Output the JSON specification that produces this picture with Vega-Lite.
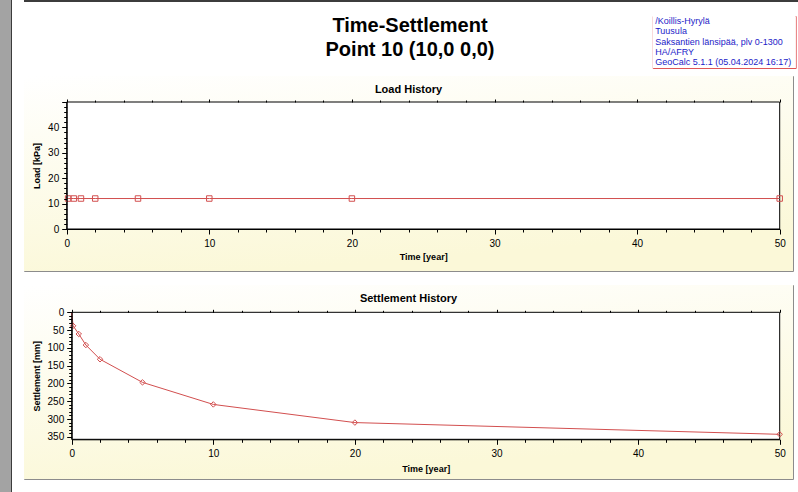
{
  "$schema": "https://vega.github.io/schema/vega-lite/v6.json",
  "background": "white",
  "padding": 0,
  "config": {
    "font": "Liberation Sans",
    "axis": {"grid": false, "domainColor": "black", "tickColor": "black", "labelColor": "black", "titleColor": "black", "labelFontSize": 10, "titleFontSize": 9, "titleFontWeight": "bold", "labelOverlap": false, "labelFlush": false, "tickWidth": 1, "domainWidth": 1},
    "title": {"color": "black"}
  },
  "datasets": {
    "load": [
      {"t": 0, "load": 12},
      {"t": 0.1, "load": 12},
      {"t": 0.5, "load": 12},
      {"t": 1, "load": 12},
      {"t": 2, "load": 12},
      {"t": 5, "load": 12},
      {"t": 10, "load": 12},
      {"t": 20, "load": 12},
      {"t": 50, "load": 12}
    ],
    "settlement": [
      {"t": 0, "s": 0},
      {"t": 0.1, "s": 38},
      {"t": 0.5, "s": 61},
      {"t": 1, "s": 92},
      {"t": 2, "s": 132},
      {"t": 5, "s": 197},
      {"t": 10, "s": 259},
      {"t": 20, "s": 310},
      {"t": 50, "s": 343}
    ]
  },
  "bounds": "flush",
  "spacing": 12,
  "hconcat": [
    {
      "width": 12,
      "height": 492,
      "view": {"stroke": null},
      "data": {"values": [{}]},
      "mark": {"type": "rect", "stroke": null, "fill": {"gradient": "linear", "x1": 0, "y1": 0, "x2": 1, "y2": 0, "stops": [{"offset": 0, "color": "#a3a3a3"}, {"offset": 0.9, "color": "#a3a3a3"}, {"offset": 0.91, "color": "#3c3c3c"}, {"offset": 1, "color": "#3c3c3c"}]}},
      "encoding": {}
    },
    {
      "spacing": 6,
      "vconcat": [
        {
          "width": 774,
          "height": 9,
          "view": {"stroke": null},
          "data": {"values": [{}]},
          "mark": {"type": "rect", "stroke": null, "fill": {"gradient": "linear", "x1": 0, "y1": 0, "x2": 0, "y2": 1, "stops": [{"offset": 0, "color": "#3c3c3c"}, {"offset": 0.18, "color": "#3c3c3c"}, {"offset": 0.19, "color": "#ffffff"}, {"offset": 1, "color": "#ffffff"}]}},
          "encoding": {}
        },
        {
          "bounds": "flush",
          "spacing": 8.7,
          "hconcat": [
            {
              "width": 620,
              "height": 52,
              "view": {"stroke": null},
              "title": {
                "text": ["Time-Settlement", "Point 10 (10,0 0,0)"],
                "orient": "bottom",
                "fontSize": 20,
                "fontWeight": "bold",
                "lineHeight": 23.7,
                "anchor": "middle",
                "frame": "group",
                "baseline": "top",
                "dx": 76,
                "offset": -52
              },
              "data": {"values": [{}]},
              "mark": {"type": "rect", "fill": "white", "stroke": null},
              "encoding": {}
            },
            {
              "width": 143,
              "height": 52,
              "view": {"stroke": "#e05555", "strokeWidth": 1, "fill": "white"},
              "title": {
                "text": ["/Koillis-Hyrylä", "Tuusula", "Saksantien länsipää, plv 0-1300", "HA/AFRY", "GeoCalc 5.1.1 (05.04.2024 16:17)"],
                "orient": "bottom",
                "fontSize": 9,
                "fontWeight": "normal",
                "color": "#1c1cc8",
                "lineHeight": 10.3,
                "anchor": "start",
                "frame": "group",
                "baseline": "top",
                "dx": 2.5,
                "offset": -51
              },
              "data": {"values": [{}]},
              "mark": {"type": "rect", "fill": "white", "stroke": null},
              "encoding": {}
            }
          ]
        },
        {
          "bounds": "flush",
          "spacing": 14,
          "vconcat": [
            {
              "width": 769,
              "height": 195,
              "view": {"stroke": "#8c8c8c", "strokeWidth": 1},
              "title": {"text": "Load History", "orient": "bottom", "fontSize": 11, "fontWeight": "bold", "anchor": "middle", "frame": "group", "baseline": "top", "offset": -187.5},
              "layer": [
                {
                  "data": {"values": [{}]},
                  "mark": {"type": "rect", "stroke": null, "fill": {"gradient": "linear", "x1": 0, "y1": 0, "x2": 0.3, "y2": 1, "stops": [{"offset": 0, "color": "#ffffff"}, {"offset": 1, "color": "#fbf8d8"}]}},
                  "encoding": {}
                },
                {
                  "data": {"values": [{"x0": 0, "x1": 50, "y0": 0, "y1": 50}]},
                  "mark": {"type": "rect", "fill": "white", "stroke": "black", "strokeWidth": 1},
                  "encoding": {
                    "x": {"field": "x0", "type": "quantitative", "scale": {"domain": [0, 50], "range": [42.7, 755.7], "nice": false, "zero": false},
                      "axis": {"orient": "top", "offset": -26, "zindex": 1, "values": [0, 2, 4, 6, 8, 10, 12, 14, 16, 18, 20, 22, 24, 26, 28, 30, 32, 34, 36, 38, 40, 42, 44, 46, 48, 50], "labels": false, "domain": false, "title": null, "tickSize": {"condition": {"test": "datum.value % 10 === 0", "value": 3}, "value": 2}}},
                    "x2": {"field": "x1"},
                    "y": {"field": "y0", "type": "quantitative", "scale": {"domain": [0, 50], "range": [153, 26], "nice": false, "zero": false}, "axis": null},
                    "y2": {"field": "y1"}
                  }
                },
                {
                  "data": {"name": "load"},
                  "mark": {"type": "line", "color": "#d24f4f", "strokeWidth": 1},
                  "encoding": {
                    "x": {"field": "t", "type": "quantitative",
                      "axis": {"orient": "bottom", "offset": -42, "zindex": 1, "values": [0, 2, 4, 6, 8, 10, 12, 14, 16, 18, 20, 22, 24, 26, 28, 30, 32, 34, 36, 38, 40, 42, 44, 46, 48, 50], "labelExpr": "datum.value % 10 === 0 ? datum.label : ''", "tickSize": {"condition": {"test": "datum.value % 10 === 0", "value": 5}, "value": 3}, "labelPadding": 4, "title": "Time [year]", "titlePadding": 4}},
                    "y": {"field": "load", "type": "quantitative",
                      "axis": {"orient": "left", "offset": -42.7, "zindex": 1, "values": [0, 2, 4, 6, 8, 10, 12, 14, 16, 18, 20, 22, 24, 26, 28, 30, 32, 34, 36, 38, 40, 42, 44, 46, 48, 50], "labelExpr": "datum.value % 10 === 0 && datum.value < 50 ? datum.label : ''", "tickSize": {"condition": {"test": "datum.value % 10 === 0", "value": 5}, "value": 3}, "labelPadding": 3, "title": "Load [kPa]", "titlePadding": 6}}
                  }
                },
                {
                  "data": {"name": "load"},
                  "transform": [{"filter": "datum.t > 0"}],
                  "mark": {"type": "point", "shape": "square", "size": 30, "filled": false, "color": "#d24f4f", "strokeWidth": 1, "opacity": 1},
                  "encoding": {
                    "x": {"field": "t", "type": "quantitative", "axis": null},
                    "y": {"field": "load", "type": "quantitative", "axis": null}
                  }
                }
              ],
              "resolve": {"axis": {"x": "independent", "y": "independent"}}
            },
            {
              "width": 769,
              "height": 194,
              "view": {"stroke": "#8c8c8c", "strokeWidth": 1},
              "title": {"text": "Settlement History", "orient": "bottom", "fontSize": 11, "fontWeight": "bold", "anchor": "middle", "frame": "group", "baseline": "top", "offset": -186.3},
              "layer": [
                {
                  "data": {"values": [{}]},
                  "mark": {"type": "rect", "stroke": null, "fill": {"gradient": "linear", "x1": 0, "y1": 0, "x2": 0.3, "y2": 1, "stops": [{"offset": 0, "color": "#ffffff"}, {"offset": 1, "color": "#fbf8d8"}]}},
                  "encoding": {}
                },
                {
                  "data": {"values": [{"x0": 0, "x1": 50, "y0": 0, "y1": 357}]},
                  "mark": {"type": "rect", "fill": "white", "stroke": "black", "strokeWidth": 1},
                  "encoding": {
                    "x": {"field": "x0", "type": "quantitative", "scale": {"domain": [0, 50], "range": [47.7, 755.7], "nice": false, "zero": false},
                      "axis": {"orient": "top", "offset": -27.3, "zindex": 1, "values": [0, 2, 4, 6, 8, 10, 12, 14, 16, 18, 20, 22, 24, 26, 28, 30, 32, 34, 36, 38, 40, 42, 44, 46, 48, 50], "labels": false, "domain": false, "title": null, "tickSize": {"condition": {"test": "datum.value % 10 === 0", "value": 3}, "value": 2}}},
                    "x2": {"field": "x1"},
                    "y": {"field": "y0", "type": "quantitative", "scale": {"domain": [0, 357], "range": [27.3, 154.3], "nice": false, "zero": false}, "axis": null},
                    "y2": {"field": "y1"}
                  }
                },
                {
                  "data": {"name": "settlement"},
                  "mark": {"type": "line", "color": "#d24f4f", "strokeWidth": 1},
                  "encoding": {
                    "x": {"field": "t", "type": "quantitative",
                      "axis": {"orient": "bottom", "offset": -39.7, "zindex": 1, "values": [0, 2, 4, 6, 8, 10, 12, 14, 16, 18, 20, 22, 24, 26, 28, 30, 32, 34, 36, 38, 40, 42, 44, 46, 48, 50], "labelExpr": "datum.value % 10 === 0 ? datum.label : ''", "tickSize": {"condition": {"test": "datum.value % 10 === 0", "value": 5}, "value": 3}, "labelPadding": 4, "title": "Time [year]", "titlePadding": 6}},
                    "y": {"field": "s", "type": "quantitative",
                      "axis": {"orient": "left", "offset": -47.7, "zindex": 1, "values": [0, 10, 20, 30, 40, 50, 60, 70, 80, 90, 100, 110, 120, 130, 140, 150, 160, 170, 180, 190, 200, 210, 220, 230, 240, 250, 260, 270, 280, 290, 300, 310, 320, 330, 340, 350], "labelExpr": "datum.value % 50 === 0 ? datum.label : ''", "tickSize": {"condition": {"test": "datum.value % 50 === 0", "value": 5}, "value": 3}, "labelPadding": 3, "title": "Settlement [mm]", "titlePadding": 6}}
                  }
                },
                {
                  "data": {"name": "settlement"},
                  "transform": [{"filter": "datum.t > 0"}],
                  "mark": {"type": "point", "shape": "diamond", "size": 30, "filled": false, "color": "#d24f4f", "strokeWidth": 1, "opacity": 1},
                  "encoding": {
                    "x": {"field": "t", "type": "quantitative", "axis": null},
                    "y": {"field": "s", "type": "quantitative", "axis": null}
                  }
                }
              ],
              "resolve": {"axis": {"x": "independent", "y": "independent"}}
            }
          ]
        }
      ]
    }
  ]
}
